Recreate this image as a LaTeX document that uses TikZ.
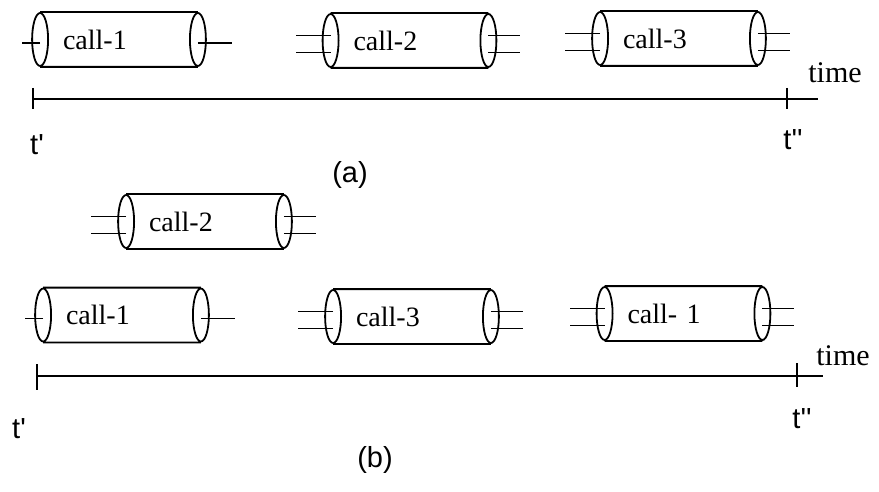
\documentclass[tikz,border=0pt]{standalone}
\usepackage{fontspec}
\setmainfont{Liberation Serif}
\newfontfamily\tickfont{Liberation Sans}
\usepackage{tikz}

\begin{document}
\begin{tikzpicture}[
  x=1pt, y=-1pt,
  line width=1.8pt,
  pipe/.style={minimum width=156pt, minimum height=53pt, text width=112pt,
    inner xsep=20pt, inner ysep=0pt, align=left,
    font=\fontsize{28}{30}\selectfont},
  tlabel/.style={font=\tickfont\fontsize{29}{31}\selectfont, inner sep=0pt},
  axislabel/.style={font=\fontsize{30}{32}\selectfont, inner sep=0pt}
]
  \useasboundingbox (0,0) rectangle (879,492);

  % calls on time line (a)
  \node[pipe] (a1) at (119,39.5) {call-1};
  \node[pipe] (a2) at (409.5,40.5) {call-2};
  \node[pipe] (a3) at (679,38.5) {call-3};

  % calls on time line (b)
  \node[pipe] (b2) at (205,221.5) {call-2};
  \node[pipe] (b1) at (122,315) {call-1};
  \node[pipe] (b3) at (412,316.5) {call-3};
  \node[pipe] (b4) at (683.5,313.5) {call- 1};

  % pipe outlines
  \foreach \p in {a1,a2,a3,b1,b2,b3,b4}
    \draw (\p.north west) -- (\p.north east) (\p.south west) -- (\p.south east)
      (\p.west) ellipse [x radius=8pt, y radius=26.5pt]
      (\p.east) ellipse [x radius=8pt, y radius=26.5pt];

  % single wires
  \foreach \p in {a1,b1}
    \draw ([yshift=-3.5pt]\p.west) -- +(-18,0)
          ([yshift=-3.5pt]\p.east) -- +(34,0);

  % double wires
  \foreach \p in {a2,a3,b2,b3,b4}
    \foreach \dy in {5,-12}
      \draw ([yshift=\dy pt]\p.west) -- +(-35,0)
            ([yshift=\dy pt]\p.east) -- +(32,0);

  % time axis (a)
  \coordinate (ta0) at (33,99);
  \coordinate (ta1) at (787,99);
  \coordinate (taend) at (818,99);
  \draw (ta0) -- (taend);
  \draw ([yshift=11pt]ta0) -- ([yshift=-10pt]ta0)
        ([yshift=11pt]ta1) -- ([yshift=-10pt]ta1);
  \node[axislabel] (timea) at (835,73) {time};
  \node[tlabel] (ta0lbl) at (37,145) {t\textquotesingle};
  \node[tlabel] (ta1lbl) at (793,140) {t\textquotesingle\textquotesingle};
  \node[tlabel] (capa) at (350,175) {(a)};

  % time axis (b)
  \coordinate (tb0) at (37,376);
  \coordinate (tb1) at (797,376);
  \coordinate (tbend) at (823,376);
  \draw (tb0) -- (tbend);
  \draw ([yshift=12pt]tb0) -- ([yshift=-14pt]tb0)
        ([yshift=13pt]tb1) -- ([yshift=-11pt]tb1);
  \node[axislabel] (timeb) at (843,356) {time};
  \node[tlabel] (tb0lbl) at (19,429) {t\textquotesingle};
  \node[tlabel] (tb1lbl) at (802,419) {t\textquotesingle\textquotesingle};
  \node[tlabel] (capb) at (375,460) {(b)};
\end{tikzpicture}
\end{document}
